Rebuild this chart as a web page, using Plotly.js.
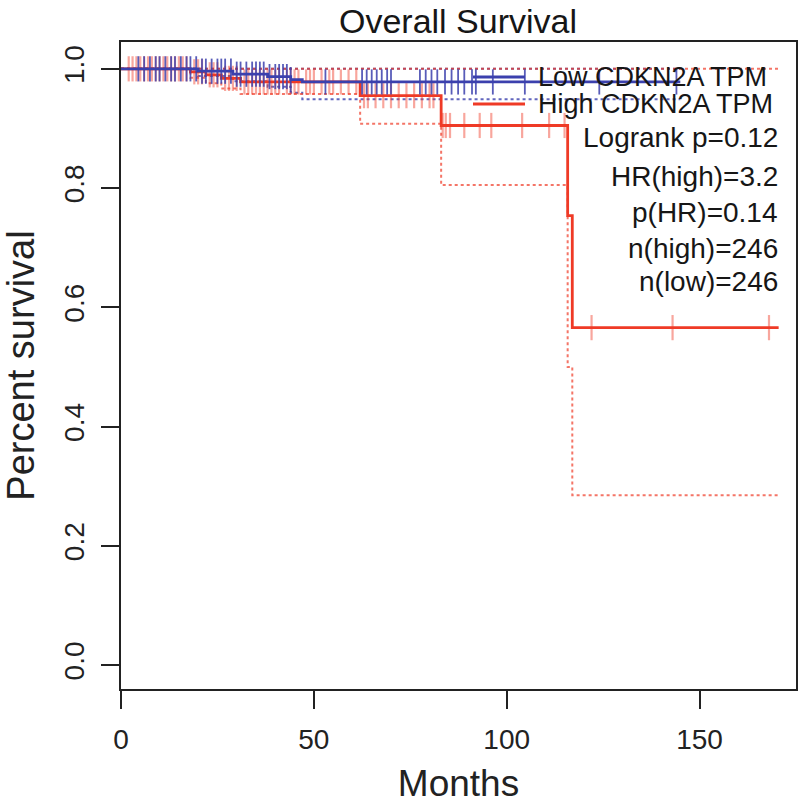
<!DOCTYPE html>
<html>
<head>
<meta charset="utf-8">
<script src="https://cdn.plot.ly/plotly-3.0.1.min.js"></script>
<style>html,body{margin:0;padding:0;background:#fff;}#chart{width:800px;height:804px;}</style>
</head>
<body>
<div id="chart"></div>
<script>
// ---- Data ----
var lowTime  = [0, 20, 29, 38, 44, 47, 145];
var lowSurv  = [1.0, 0.996, 0.991, 0.987, 0.982, 0.978, 0.978];
var lowLower = [1.0, 0.988, 0.979, 0.970, 0.960, 0.949, 0.949];
var lowUpper = [1.0, 1.0, 1.0, 1.0, 1.0, 1.0, 1.0];
var lowCensor = [4.5, 6, 7.5, 9, 10, 11.5, 13, 14, 15.5, 17, 18, 19.5, 21, 22, 23.5, 25, 26, 27, 28.5,
  30, 31, 32.5, 34, 35, 36, 37, 38.5, 40, 41, 42, 43, 44, 53, 62.5, 63.7, 65, 66.3, 67.6, 69, 70,
  77.5, 79, 80.5, 82, 84, 85.7, 87.4, 89, 91, 92, 96.4, 104.7, 124, 144];

var highTime  = [0, 18, 22, 26, 31, 62, 83, 115.8, 117, 170.5];
var highSurv  = [1.0, 0.995, 0.99, 0.984, 0.978, 0.955, 0.905, 0.754, 0.566, 0.566];
var highLower = [1.0, 0.985, 0.976, 0.967, 0.958, 0.908, 0.805, 0.5, 0.285, 0.285];
var highUpper = [1.0, 1.0, 1.0, 1.0, 1.0, 1.0, 1.0, 1.0, 1.0, 1.0];
var highCensor = [2, 3, 4, 5, 6, 7, 8, 9, 10, 11, 12, 13, 14, 15, 16, 17, 19, 20, 21, 23, 24, 25, 27,
  28, 29, 30, 32, 33, 34, 35, 36, 37, 38, 39, 40, 41, 43, 44, 45, 46, 48, 49, 50, 52, 54, 55, 57, 59,
  61, 63, 64, 66, 68, 70, 72, 74, 76, 78, 80, 81, 83.4, 84.2, 85.3, 89, 93, 96, 104, 111, 115, 122, 143, 168];

var seriesNames = ["Low CDKN2A TPM", "High CDKN2A TPM"];
var statLabels = ["Logrank p=0.12", "HR(high)=3.2", "p(HR)=0.14", "n(high)=246", "n(low)=246"];
var xTicks = [0, 50, 100, 150];
var yTicks = [0.0, 0.2, 0.4, 0.6, 0.8, 1.0];

// ---- Helpers ----
function survAt(times, surv, t) {
  var v = surv[0];
  for (var i = 0; i < times.length; i++) { if (times[i] <= t) v = surv[i]; }
  return v;
}
var BLUE = "#3b40ad", RED = "#ef3a26";
var FONT = "Liberation Sans, Arial, Helvetica, sans-serif";
var TXT = "#161616";

function stepLine(x, y, color, dash, width) {
  return {x: x, y: y, type: "scatter", mode: "lines", line: {shape: "hv", color: color, width: width, dash: dash},
    showlegend: false, hoverinfo: "skip"};
}
function censor(times, st, ss, color, w) {
  return {x: times, y: times.map(function (t) { return survAt(st, ss, t); }), type: "scatter", mode: "markers",
    marker: {symbol: "line-ns", size: 18, line: {color: color, width: w}}, showlegend: false, hoverinfo: "skip"};
}

var traces = [
  stepLine(lowTime, lowUpper, "rgba(59,64,173,0.8)", "dot", 2),
  stepLine(lowTime, lowLower, "rgba(59,64,173,0.8)", "dot", 2),
  stepLine(highTime, highUpper, "rgba(239,58,38,0.7)", "dot", 2),
  stepLine(highTime, highLower, "rgba(239,58,38,0.7)", "dot", 2),
  censor(highCensor, highTime, highSurv, "rgba(239,58,38,0.45)", 2.2),
  stepLine(highTime, highSurv, RED, "solid", 2.8),
  censor(lowCensor, lowTime, lowSurv, "rgba(59,64,173,0.85)", 1.8),
  stepLine(lowTime, lowSurv, BLUE, "solid", 2.8)
];

var L = 121, R = 4, T = 42, B = 115, W = 800, H = 804;
var plotH = H - T - B, plotW = W - L - R;
function px(x) { return (x - L) / plotW; }
function py(y) { return (H - B - y) / plotH; }

// legend (R style: line then label) and statistics text
var legendY = [77, 104];
var legendColors = [BLUE, RED];
var shapes = legendY.map(function (y, i) {
  return {type: "line", xref: "paper", yref: "paper", x0: px(473), x1: px(525), y0: py(y), y1: py(y),
    line: {color: legendColors[i], width: 2.8}};
});
var annotations = seriesNames.map(function (s, i) {
  return {text: s, xref: "paper", yref: "paper", x: px(536), y: py(legendY[i]), xanchor: "left", yanchor: "middle",
    showarrow: false, font: {family: FONT, size: 27, color: TXT}};
});
var statY = [137, 176, 212, 248, 281];
statLabels.forEach(function (s, i) {
  annotations.push({text: s, xref: "paper", yref: "paper", x: px(780), y: py(statY[i]),
    xanchor: "right", yanchor: "middle", showarrow: false, font: {family: FONT, size: 28, color: TXT}});
});

var layout = {
  width: W, height: H,
  margin: {l: L, r: R, t: T, b: B, pad: 0},
  paper_bgcolor: "#fff", plot_bgcolor: "#fff",
  font: {family: FONT, color: TXT},
  title: {text: "Overall Survival", font: {family: FONT, size: 34, color: TXT}, x: 458 / W, xanchor: "center", y: 1 - 21 / H, yanchor: "middle"},
  xaxis: {range: [0, 175], tickvals: xTicks, ticktext: xTicks.map(String), ticks: "outside", ticklen: 18, tickwidth: 2,
    tickcolor: "#222", showline: true, mirror: true, linecolor: "#222", linewidth: 2, showgrid: false, zeroline: false,
    tickfont: {family: FONT, size: 28, color: "#222"}, ticklabelstandoff: 6,
    title: {text: "Months", font: {family: FONT, size: 37, color: "#222"}, standoff: 18}},
  yaxis: {range: [-0.04, 1.045], tickvals: yTicks, ticktext: yTicks.map(function (v) { return v.toFixed(1); }),
    tickangle: -90, ticks: "outside", ticklen: 18, tickwidth: 2, tickcolor: "#222", showline: true, mirror: true,
    linecolor: "#222", linewidth: 2, showgrid: false, zeroline: false,
    tickfont: {family: FONT, size: 28, color: "#222"}, ticklabelstandoff: 6,
    title: {text: "Percent survival", font: {family: FONT, size: 38, color: "#222"}, standoff: 14}},
  shapes: shapes,
  annotations: annotations,
  showlegend: false
};

Plotly.newPlot("chart", traces, layout, {staticPlot: true, displayModeBar: false});
</script>
</body>
</html>
